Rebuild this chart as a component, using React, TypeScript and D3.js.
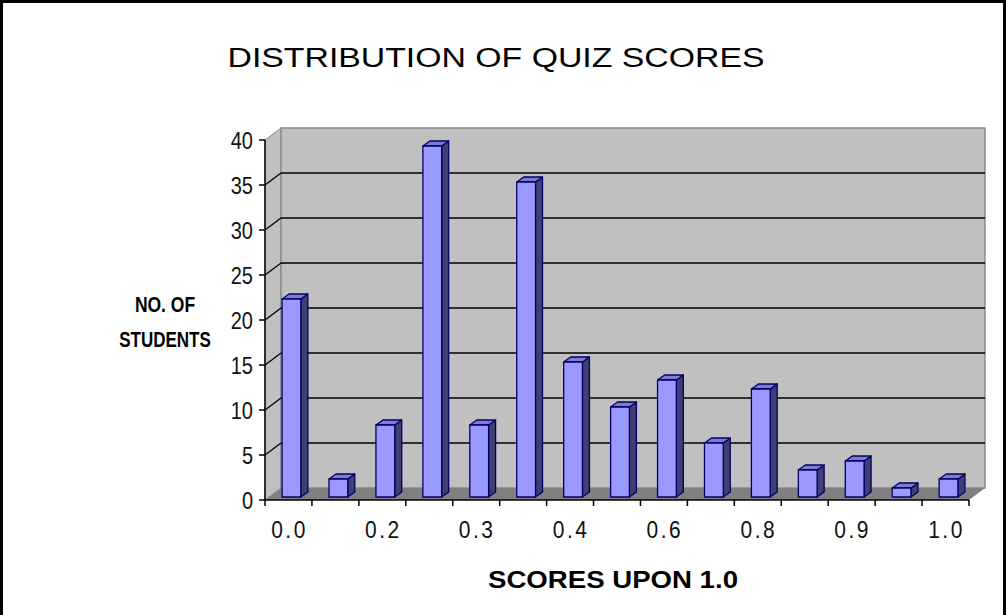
import * as d3 from 'd3';

// values
const students = [22, 2, 8, 39, 8, 35, 15, 10, 13, 6, 12, 3, 4, 1, 2];
const tickLabels = ['0.0', '0.2', '0.3', '0.4', '0.6', '0.8', '0.9', '1.0'];
const yTicks = [0, 5, 10, 15, 20, 25, 30, 35, 40];

const W = 1006;
const H = 615;
const left = 265;
const right = 969;
const base = 500;
const top = 140;
// 3d depth of the walls
const dx = 16;
const dy = -12;

const App = () => {
  const x = d3.scaleBand<number>()
    .domain(d3.range(students.length))
    .range([left, right])
    .paddingInner(0.6)
    .paddingOuter(0.3);
  const edge = d3.scaleLinear().domain([0, students.length]).range([left, right]);
  const y = d3.scaleLinear().domain([0, 40]).range([base, top]);
  const bw = x.bandwidth();
  const font = 'Arial, "Liberation Sans", sans-serif';

  return (
    <svg width={W} height={H} style={{ position: 'absolute', left: 0, top: 0, background: '#fff' }}>
      {/* frame */}
      <path d={`M1.5,${H} V1.5 H${W - 1.5} V${H}`} fill="none" stroke="#000" strokeWidth={3} />

      <text x={496} y={67} textAnchor="middle" fontFamily={font} fontSize={27}
        textLength={537} lengthAdjust="spacingAndGlyphs">DISTRIBUTION OF QUIZ SCORES</text>

      {/* walls */}
      <polygon
        points={`${left},${base} ${left},${top} ${left + dx},${top + dy} ${left + dx},${base + dy}`}
        fill="#c0c0c0" stroke="#8a8a8a" strokeWidth={1} />
      <rect x={left + dx} y={top + dy} width={right - left} height={base - top}
        fill="#c0c0c0" stroke="#8a8a8a" strokeWidth={1.5} />
      <polygon
        points={`${left},${base} ${left + dx},${base + dy} ${right + dx},${base + dy} ${right},${base}`}
        fill="#808080" />

      {/* gridlines */}
      {yTicks.filter(t => t > 0 && t < 40).map(t => (
        <g key={t}>
          <line x1={left} y1={y(t)} x2={left + dx} y2={y(t) + dy} stroke="#000" strokeWidth={1.3} />
          <line x1={left + dx} y1={y(t) + dy} x2={right + dx} y2={y(t) + dy} stroke="#000" strokeWidth={1.5} />
        </g>
      ))}

      {/* bars */}
      {students.map((v, i) => {
        const x0 = (x(i) as number) + 3;
        const x1 = x0 + bw;
        const y0 = base - 3;
        const y1 = y(v) - 3;
        return (
          <g key={i} stroke="#000066" strokeWidth={1.3} strokeLinejoin="round">
            <polygon points={`${x1},${y0} ${x1 + 7},${y0 - 5} ${x1 + 7},${y1 - 5} ${x1},${y1}`} fill="#3f3f72" />
            <polygon points={`${x0},${y1} ${x0 + 7},${y1 - 5} ${x1 + 7},${y1 - 5} ${x1},${y1}`} fill="#7c7cd0" />
            <rect x={x0} y={y1} width={bw} height={y0 - y1} fill="#9999ff" />
          </g>
        );
      })}

      {/* y axis */}
      <line x1={left} y1={top} x2={left} y2={base} stroke="#000" strokeWidth={1.5} />
      {yTicks.map(t => (
        <g key={t}>
          <line x1={left - 6} y1={y(t)} x2={left} y2={y(t)} stroke="#000" strokeWidth={1.5} />
          <text transform={`translate(253,${y(t)}) scale(1,1.22)`} dy="0.36em" textAnchor="end"
            fontFamily={font} fontSize={20} fill="#111">{t}</text>
        </g>
      ))}

      {/* x axis */}
      <line x1={left} y1={base} x2={right} y2={base} stroke="#000" strokeWidth={1.5} />
      {d3.range(students.length + 1).map(i => (
        <line key={i} x1={edge(i)} y1={base} x2={edge(i)} y2={base + 6} stroke="#000" strokeWidth={1.5} />
      ))}
      {tickLabels.map((lab, k) => (
        <text key={lab} transform={`translate(${(x(k * 2) as number) + bw / 2 + 1},538) scale(1,1.15)`}
          textAnchor="middle" fontFamily={font} fontSize={21} letterSpacing={2.5} fill="#111">{lab}</text>
      ))}

      {/* axis titles */}
      <text transform="translate(165,312) scale(1,1.3)" textAnchor="middle" fontFamily={font}
        fontSize={17.5} fontWeight="bold">NO. OF</text>
      <text transform="translate(165,347) scale(1,1.3)" textAnchor="middle" fontFamily={font}
        fontSize={17} fontWeight="bold">STUDENTS</text>
      <text x={613} y={588} textAnchor="middle" fontFamily={font} fontSize={24} fontWeight="bold"
        textLength={250} lengthAdjust="spacingAndGlyphs">SCORES UPON 1.0</text>
    </svg>
  );
};

export default App;
